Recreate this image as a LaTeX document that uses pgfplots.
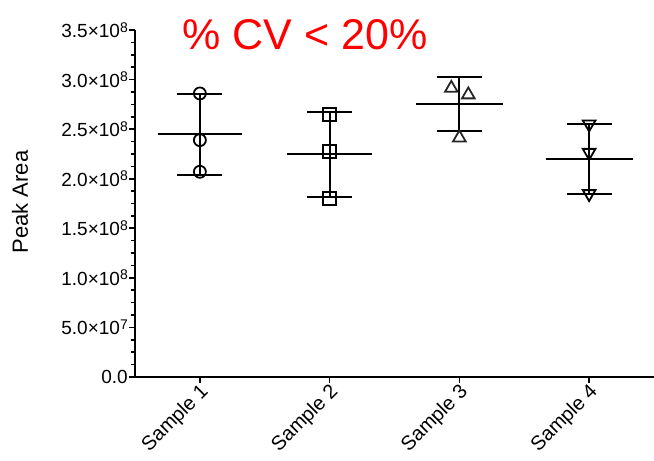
\documentclass[border=0pt]{standalone}
\usepackage{fontspec}
\setmainfont{Liberation Sans}
\usepackage{pgfplots}
\pgfplotsset{compat=1.18}
\newcommand{\sci}[2]{#1×10\raisebox{0.55ex}{\fontsize{14}{14}\selectfont #2}}
\begin{document}
\begin{tikzpicture}
\begin{axis}[
  at={(0pt,0pt)}, anchor=south west,
  scale only axis, width=519pt, height=347pt,
  xmin=0.5, xmax=4.5, ymin=0, ymax=3.5e8,
  axis x line*=bottom, axis y line*=left,
  axis line style={line width=2pt, black},
  every tick/.style={black, line width=1.6pt},
  tick align=outside,
  major tick length=6pt, minor tick length=4pt,
  minor y tick num=3,
  xtick={1,2,3,4},
  xticklabels={Sample 1, Sample 2, Sample 3, Sample 4},
  ytick={0,5e7,1e8,1.5e8,2e8,2.5e8,3e8,3.5e8},
  yticklabels={0.0, \sci{5.0}{7}, \sci{1.0}{8}, \sci{1.5}{8}, \sci{2.0}{8}, \sci{2.5}{8}, \sci{3.0}{8}, \sci{3.5}{8}},
  scaled y ticks=false,
  yticklabel style={font=\fontsize{19}{22}\selectfont, inner sep=1pt},
  xticklabel style={font=\fontsize{20}{23}\selectfont, rotate=45, anchor=east, inner sep=2pt, xshift=2pt, yshift=-8pt},
  clip=false,
]
% mean lines
\addplot[black, line width=2pt] coordinates {(0.675,2.447e8) (1.325,2.447e8)};
\addplot[black, line width=2pt] coordinates {(1.675,2.245e8) (2.325,2.245e8)};
\addplot[black, line width=2pt] coordinates {(2.665,2.755e8) (3.335,2.755e8)};
\addplot[black, line width=2pt] coordinates {(3.665,2.195e8) (4.335,2.195e8)};
% SD error bars
\addplot[black, line width=2pt, mark=none, draw=none,
  error bars/.cd, y dir=both, y explicit,
  error bar style={line width=2pt, black},
  error mark=|, error mark options={line width=2pt, black, mark size=22.5pt}]
  coordinates {
    (1,2.447e8) +- (0,0.41e8)
    (2,2.245e8) +- (0,0.425e8)
    (3,2.755e8) +- (0,0.27e8)
    (4,2.195e8) +- (0,0.354e8)
  };
% individual points
\addplot[only marks, mark=o, mark size=6pt, mark options={line width=1.8pt, black, fill=none}]
  coordinates {(1,2.860e8) (1,2.389e8) (1,2.070e8)};
\addplot[only marks, mark=square, mark size=6.5pt, mark options={line width=1.8pt, black, fill=none}]
  coordinates {(2,2.651e8) (2,2.278e8) (2,1.801e8)};
\addplot[only marks, mark=triangle, mark size=7.3pt, mark options={line width=1.8pt, black!85, fill=none}]
  coordinates {(2.938,2.913e8) (3.069,2.847e8) (3,2.413e8)};
\addplot[only marks, mark=triangle, mark size=7.3pt, mark options={line width=1.8pt, black, fill=none, rotate=180}]
  coordinates {(4,2.550e8) (4,2.264e8) (4,1.848e8)};
\end{axis}
\node[text=red, font=\fontsize{43}{50}\selectfont, anchor=base] at (170pt,327pt) {\% CV < 20\%};
\node[rotate=90, anchor=base, font=\fontsize{22}{25}\selectfont] at (-107pt,175pt) {Peak Area};
\pgfresetboundingbox
\path[use as bounding box] (-135pt,-84pt) rectangle (519pt,377pt);
\end{tikzpicture}
\end{document}
